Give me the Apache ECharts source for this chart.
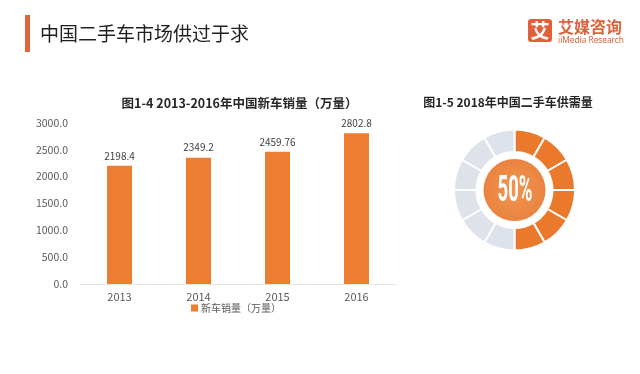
<!DOCTYPE html>
<html>
<head>
<meta charset="utf-8">
<script src="https://cdn.jsdelivr.net/npm/echarts@6/dist/echarts.min.js"></script>
<style>
html,body{margin:0;padding:0;background:#fff;}
#main{width:640px;height:374px;}
</style>
</head>
<body>
<div id="main"></div>
<script>
// ---- data ----
var pageTitle = '中国二手车市场供过于求';
var barTitle = '图1-4 2013-2016年中国新车销量（万量）';
var donutTitle = '图1-5 2018年中国二手车供需量';
var years = ['2013', '2014', '2015', '2016'];
var salesValues = [2198.4, 2349.2, 2459.76, 2802.8];
var salesLabels = ['2198.4', '2349.2', '2459.76', '2802.8'];
var seriesName = '新车销量（万量）';
var yTicks = [0, 500, 1000, 1500, 2000, 2500, 3000];
var donutSegmentValues = [1, 1, 1, 1, 1, 1, 1, 1, 1, 1, 1, 1];
var donutSegmentFilled = [true, true, true, true, true, true, false, false, false, false, false, false];
var donutCenterText = '50%';

var FONT = '"Noto Sans CJK SC", "Noto Sans", sans-serif';
var chart = echarts.init(document.getElementById('main'), null, {renderer: 'canvas'});

var option = {
  backgroundColor: '#ffffff',
  animation: false,
  textStyle: {fontFamily: FONT},
  title: [
    {text: barTitle, left: 234.5, top: 92, textAlign: 'center',
     textStyle: {fontSize: 12.5, fontWeight: 'bold', color: '#262626', fontFamily: FONT}},
    {text: donutTitle, left: 503, top: 91, textAlign: 'center',
     textStyle: {fontSize: 12, fontWeight: 'bold', color: '#262626', fontFamily: FONT}}
  ],
  legend: {
    data: [seriesName], left: 186, top: 298,
    icon: 'rect', itemWidth: 7, itemHeight: 7, itemGap: 4,
    textStyle: {fontSize: 10, color: '#595959', fontFamily: FONT, padding: [0, 0, 0, -2]}
  },
  grid: {left: 80, right: 244, top: 122.7, bottom: 90, containLabel: false},
  xAxis: {
    type: 'category', data: years,
    axisLine: {show: true, lineStyle: {color: '#e3e3e3'}},
    axisTick: {show: false},
    axisLabel: {fontSize: 11, color: '#595959', margin: 7, fontFamily: FONT}
  },
  yAxis: {
    type: 'value', min: yTicks[0], max: yTicks[yTicks.length - 1], interval: yTicks[1] - yTicks[0],
    axisLine: {show: false}, axisTick: {show: false}, splitLine: {show: false},
    axisLabel: {fontSize: 10.5, color: '#595959', margin: 12, fontFamily: FONT,
      formatter: function (v) { return v.toFixed(1); }}
  },
  series: [
    {
      name: seriesName, type: 'bar', data: salesValues, barWidth: 25,
      itemStyle: {color: '#ED7D31'},
      label: {show: true, position: 'top', distance: 5, fontSize: 10, color: '#404040', fontFamily: FONT,
        formatter: function (p) { return salesLabels[p.dataIndex]; }}
    },
    {
      type: 'pie', silent: true, center: [514.5, 190], radius: [38, 60.5],
      startAngle: 90, clockwise: true, label: {show: false}, labelLine: {show: false},
      data: donutSegmentValues.map(function (v, i) {
        return {value: v, itemStyle: {color: donutSegmentFilled[i] ? '#EB792C' : '#DEE2EA', borderColor: '#ffffff', borderWidth: 2}};
      })
    },
    {
      type: 'pie', silent: true, center: [514.5, 190], radius: [0, 31],
      label: {show: false}, labelLine: {show: false},
      data: [{value: 1, itemStyle: {color: new echarts.graphic.RadialGradient(0.5, 0.5, 0.5, [
        {offset: 0, color: '#F09550'}, {offset: 1, color: '#EA8440'}])}}]
    }
  ],
  graphic: [
    {type: 'rect', shape: {x: 25, y: 15, width: 5, height: 37}, style: {fill: '#E2643A'}},
    {type: 'text', x: 40, y: 33.5, style: {text: pageTitle, font: '19px "Noto Sans CJK SC"', fill: '#1f1f1f', textAlign: 'left', textVerticalAlign: 'middle'}},
    {type: 'rect', shape: {x: 528, y: 19, width: 24, height: 23, r: 3}, style: {fill: '#E0603A'}},
    {type: 'text', x: 540, y: 30.5, style: {text: '艾', font: 'bold 19px "Noto Sans CJK SC"', fill: '#ffffff', textAlign: 'center', textVerticalAlign: 'middle'}},
    {type: 'text', x: 558, y: 27, style: {text: '艾媒咨询', font: 'bold 16px "Noto Sans CJK SC"', fill: '#DC6239', textAlign: 'left', textVerticalAlign: 'middle'}},
    {type: 'text', x: 558, y: 40, scaleX: 0.92, style: {text: 'iiMedia Research', font: '9px "Noto Sans"', fill: '#DC6239', textAlign: 'left', textVerticalAlign: 'middle'}},
    {type: 'text', x: 515, y: 192, scaleX: 0.5, style: {text: donutCenterText, font: 'bold 37px Roboto', fill: '#ffffff', textAlign: 'center', textVerticalAlign: 'middle'}, z: 100}
  ]
};
chart.setOption(option);
</script>
</body>
</html>
